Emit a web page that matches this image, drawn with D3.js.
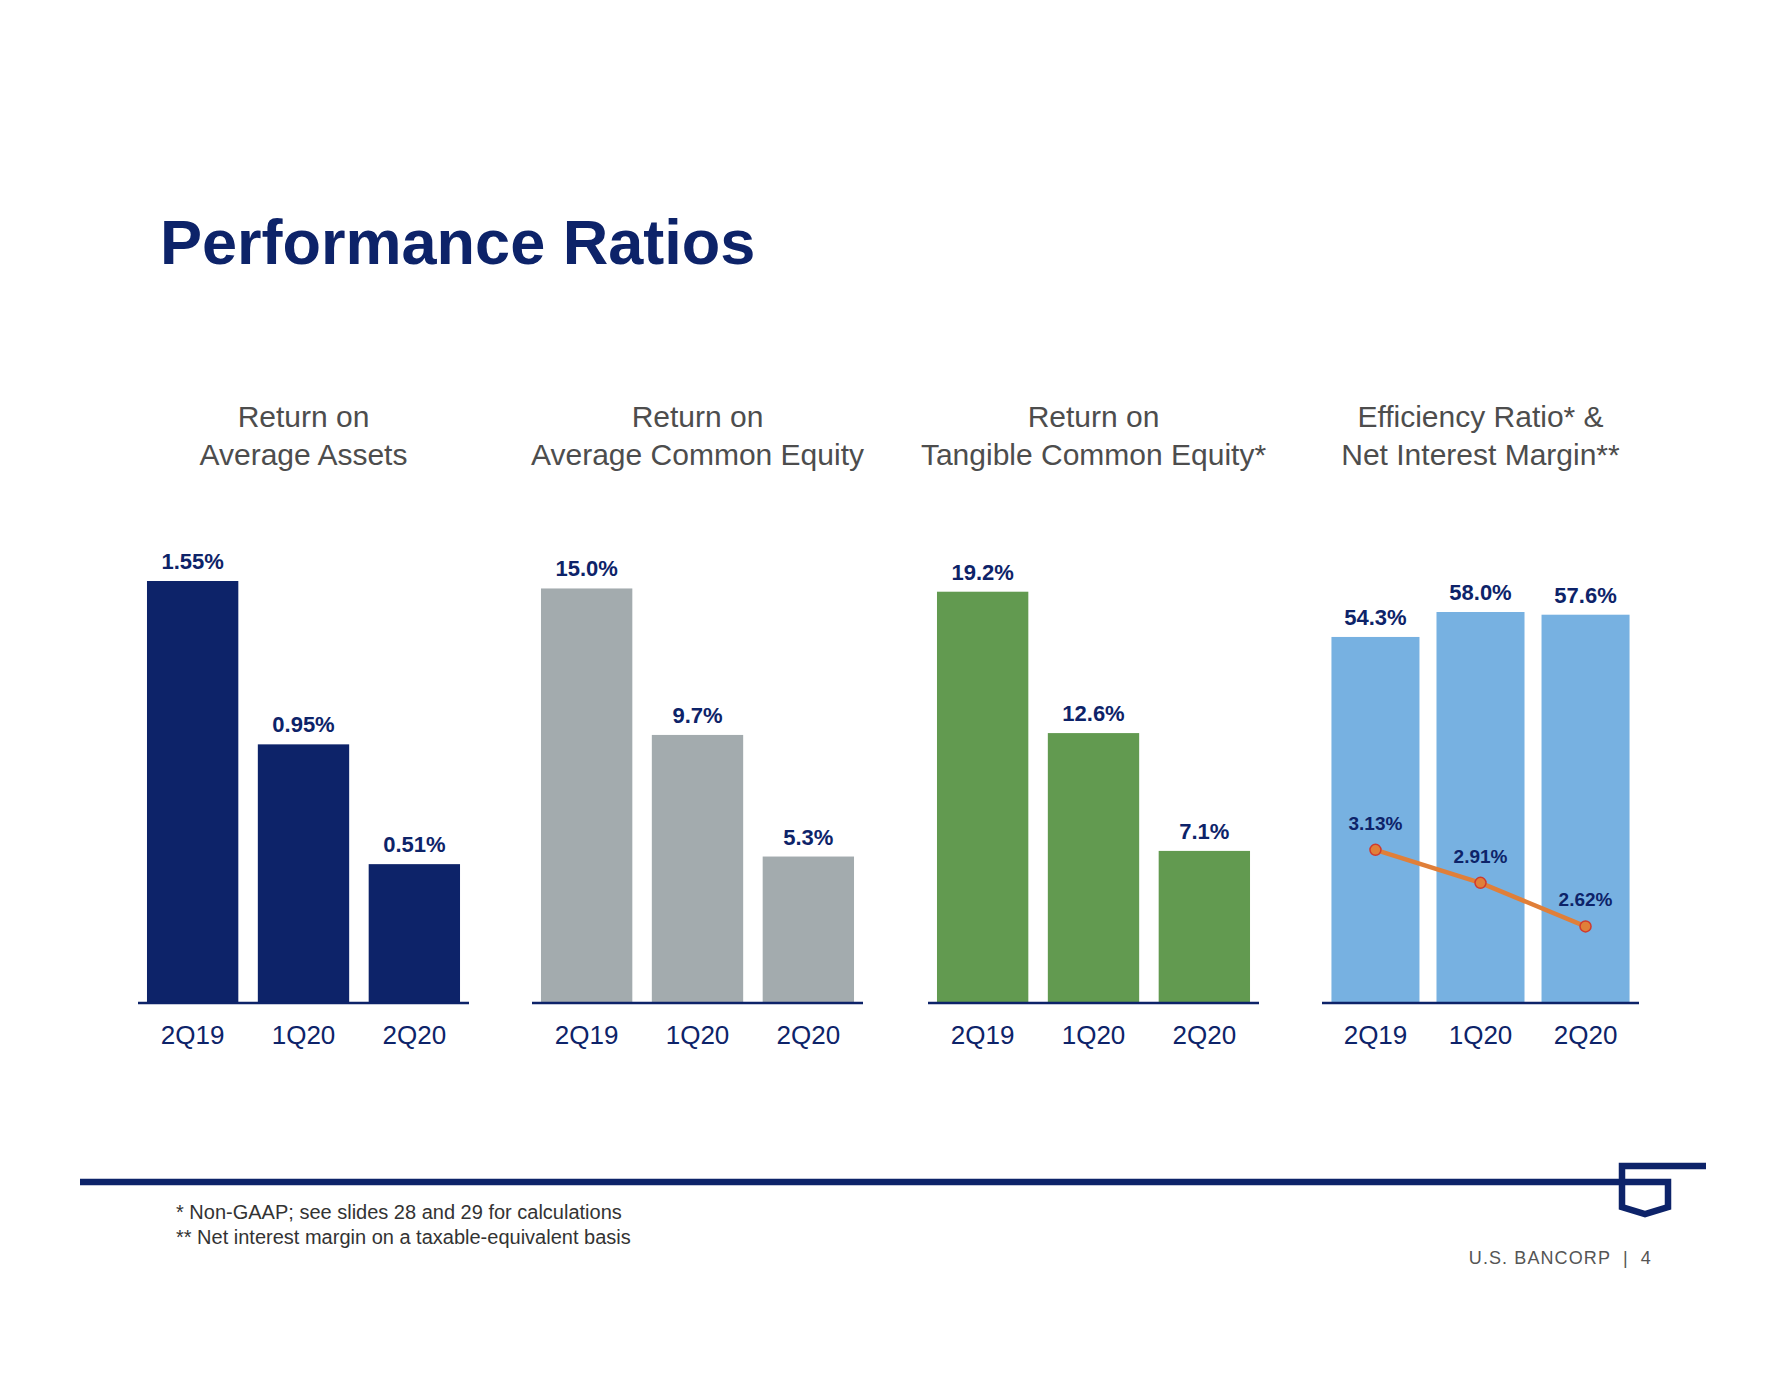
<!DOCTYPE html>
<html>
<head>
<meta charset="utf-8">
<script src="https://cdn.jsdelivr.net/npm/d3@7"></script>
<style>
  body { margin: 0; background: #fff; }
  svg { display: block; font-family: "Liberation Sans", Arial, sans-serif; }
  .chart-title { font-size: 63px; font-weight: bold; fill: #0d2369; }
  .panel-title { font-size: 30px; fill: #4d4d4d; }
  .value-label { font-size: 22px; font-weight: bold; fill: #0d2369; }
  .line-label { font-size: 19px; font-weight: bold; fill: #0d2369; }
  .axis path { stroke: #0d2369; stroke-width: 2.5px; }
  .axis text { font-size: 26px; fill: #0d2369; font-family: "Liberation Sans", Arial, sans-serif; }
  .note-text { font-size: 20px; fill: #333; }
  .brand-text { font-size: 18px; fill: #555; letter-spacing: 1.1px; }
</style>
</head>
<body>
<div class="responsive-svg-container"></div>
<script>
const quarters = ["2Q19", "1Q20", "2Q20"];
const roaValues = [1.55, 0.95, 0.51];
const roeValues = [15.0, 9.7, 5.3];
const rotceValues = [19.2, 12.6, 7.1];
const efficiencyValues = [54.3, 58.0, 57.6];
const nimValues = [3.13, 2.91, 2.62];

const roaLabels = ["1.55%", "0.95%", "0.51%"];
const roeLabels = ["15.0%", "9.7%", "5.3%"];
const rotceLabels = ["19.2%", "12.6%", "7.1%"];
const efficiencyLabels = ["54.3%", "58.0%", "57.6%"];
const nimLabels = ["3.13%", "2.91%", "2.62%"];

const panelTitles = [
  ["Return on", "Average Assets"],
  ["Return on", "Average Common Equity"],
  ["Return on", "Tangible Common Equity*"],
  ["Efficiency Ratio* &", "Net Interest Margin**"]
];

const footnotes = [
  "* Non-GAAP; see slides 28 and 29 for calculations",
  "** Net interest margin on a taxable-equivalent basis"
];

const width = 1784;
const height = 1380;
const baseY = 1003;
const topY = 581;

const panels = [
  { values: roaValues, labels: roaLabels, title: panelTitles[0], color: "#0d2369", x0: 138, x1: 469, yMax: 1.55, pIn: 0.176, pOut: 0.081 },
  { values: roeValues, labels: roeLabels, title: panelTitles[1], color: "#a3abae", x0: 532, x1: 863, yMax: 15.27, pIn: 0.176, pOut: 0.081 },
  { values: rotceValues, labels: rotceLabels, title: panelTitles[2], color: "#629a50", x0: 928, x1: 1259, yMax: 19.7, pIn: 0.176, pOut: 0.081 },
  { values: efficiencyValues, labels: efficiencyLabels, title: panelTitles[3], color: "#77b1e1", x0: 1322, x1: 1639, yMax: 62.6, pIn: 0.162, pOut: 0.09 }
];

const svg = d3.select(".responsive-svg-container")
  .append("svg")
  .attr("width", width)
  .attr("height", height)
  .attr("viewBox", `0 0 ${width} ${height}`);

svg.append("text")
  .attr("class", "chart-title")
  .attr("x", 160)
  .attr("y", 264)
  .text("Performance Ratios");

panels.forEach((p, i) => {
  const g = svg.append("g");

  const xScale = d3.scaleBand()
    .domain(quarters)
    .range([p.x0, p.x1])
    .paddingInner(p.pIn)
    .paddingOuter(p.pOut);

  const yScale = d3.scaleLinear()
    .domain([0, p.yMax])
    .range([baseY, topY]);

  const cx = (p.x0 + p.x1) / 2;
  g.selectAll(".panel-title")
    .data(p.title)
    .join("text")
    .attr("class", "panel-title")
    .attr("x", cx)
    .attr("y", (d, j) => 427 + j * 38)
    .attr("text-anchor", "middle")
    .text(d => d);

  const rows = quarters.map((q, j) => ({ q, v: p.values[j], label: p.labels[j] }));

  g.selectAll("rect")
    .data(rows)
    .join("rect")
    .attr("x", d => xScale(d.q))
    .attr("y", d => yScale(d.v))
    .attr("width", xScale.bandwidth())
    .attr("height", d => baseY - yScale(d.v))
    .attr("fill", p.color);

  g.selectAll(".value-label")
    .data(rows)
    .join("text")
    .attr("class", "value-label")
    .attr("x", d => xScale(d.q) + xScale.bandwidth() / 2)
    .attr("y", d => yScale(d.v) - 12)
    .attr("text-anchor", "middle")
    .text(d => d.label);

  g.append("g")
    .attr("class", "axis")
    .attr("transform", `translate(0, ${baseY})`)
    .call(d3.axisBottom(xScale).tickSize(0).tickPadding(23))
    .call(a => a.select(".domain").attr("d", `M${p.x0},0H${p.x1}`));

  // net interest margin line on the last panel
  if (i === 3) {
    const yLine = d3.scaleLinear()
      .domain([2.11, 4.92])
      .range([baseY, topY]);

    const pts = quarters.map((q, j) => ({ q, v: nimValues[j], label: nimLabels[j] }));

    g.append("path")
      .datum(pts)
      .attr("fill", "none")
      .attr("stroke", "#e07f39")
      .attr("stroke-width", 4.5)
      .attr("d", d3.line()
        .x(d => xScale(d.q) + xScale.bandwidth() / 2)
        .y(d => yLine(d.v)));

    g.selectAll(".dot")
      .data(pts)
      .join("circle")
      .attr("class", "dot")
      .attr("cx", d => xScale(d.q) + xScale.bandwidth() / 2)
      .attr("cy", d => yLine(d.v))
      .attr("r", 5.5)
      .attr("fill", "#e07f39")
      .attr("stroke", "#d03a2e")
      .attr("stroke-width", 1.5);

    g.selectAll(".line-label")
      .data(pts)
      .join("text")
      .attr("class", "line-label")
      .attr("x", d => xScale(d.q) + xScale.bandwidth() / 2)
      .attr("y", d => yLine(d.v) - 20)
      .attr("text-anchor", "middle")
      .text(d => d.label);
  }
});

// footer rule and shield mark
svg.append("path")
  .attr("d", "M80,1182H1668V1207L1645,1214L1622,1207V1166H1706")
  .attr("fill", "none")
  .attr("stroke", "#0d2369")
  .attr("stroke-width", 6.5)
  .attr("stroke-linejoin", "miter");

svg.selectAll(".note-text")
  .data(footnotes)
  .join("text")
  .attr("class", "note-text")
  .attr("x", 176)
  .attr("y", (d, j) => 1219 + j * 25)
  .text(d => d);

svg.append("text")
  .attr("class", "brand-text")
  .attr("x", 1652)
  .attr("y", 1264)
  .attr("text-anchor", "end")
  .text("U.S. BANCORP  |  4")
  .attr("xml:space", "preserve")
  .style("white-space", "pre");
</script>
</body>
</html>
